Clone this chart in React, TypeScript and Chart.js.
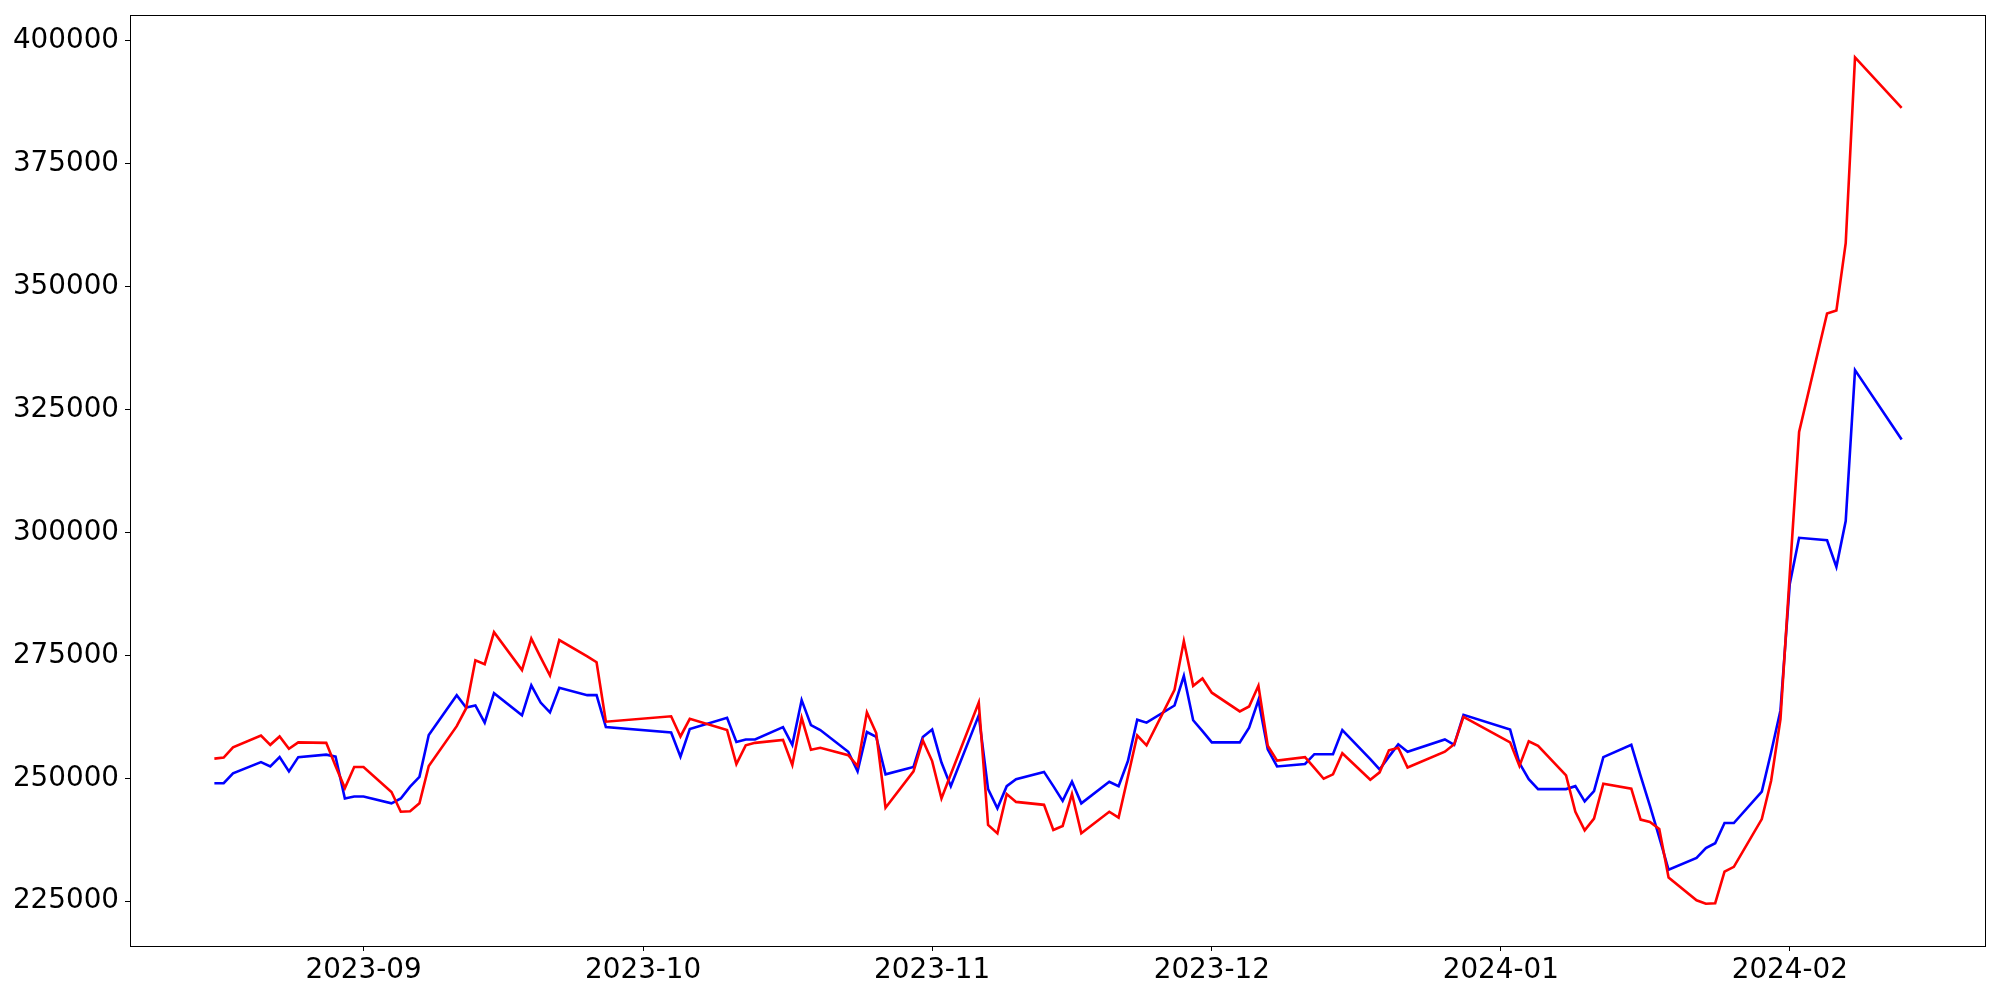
import React, { useEffect, useRef } from 'react';
import { Chart, registerables } from 'chart.js';

Chart.register(...registerables);

const dates = [
  '2023-08-16', '2023-08-17', '2023-08-18', '2023-08-21', '2023-08-22', '2023-08-23', '2023-08-24', '2023-08-25', '2023-08-28', '2023-08-29',
  '2023-08-30', '2023-08-31', '2023-09-01', '2023-09-04', '2023-09-05', '2023-09-06', '2023-09-07', '2023-09-08', '2023-09-11', '2023-09-12',
  '2023-09-13', '2023-09-14', '2023-09-15', '2023-09-18', '2023-09-19', '2023-09-20', '2023-09-21', '2023-09-22', '2023-09-25', '2023-09-26',
  '2023-09-27', '2023-10-04', '2023-10-05', '2023-10-06', '2023-10-10', '2023-10-11', '2023-10-12', '2023-10-13', '2023-10-16', '2023-10-17',
  '2023-10-18', '2023-10-19', '2023-10-20', '2023-10-23', '2023-10-24', '2023-10-25', '2023-10-26', '2023-10-27', '2023-10-30', '2023-10-31',
  '2023-11-01', '2023-11-02', '2023-11-03', '2023-11-06', '2023-11-07', '2023-11-08', '2023-11-09', '2023-11-10', '2023-11-13', '2023-11-14',
  '2023-11-15', '2023-11-16', '2023-11-17', '2023-11-20', '2023-11-21', '2023-11-22', '2023-11-23', '2023-11-24', '2023-11-27', '2023-11-28',
  '2023-11-29', '2023-11-30', '2023-12-01', '2023-12-04', '2023-12-05', '2023-12-06', '2023-12-07', '2023-12-08', '2023-12-11', '2023-12-12',
  '2023-12-13', '2023-12-14', '2023-12-15', '2023-12-18', '2023-12-19', '2023-12-20', '2023-12-21', '2023-12-22', '2023-12-26', '2023-12-27',
  '2023-12-28', '2024-01-02', '2024-01-03', '2024-01-04', '2024-01-05', '2024-01-08', '2024-01-09', '2024-01-10', '2024-01-11', '2024-01-12',
  '2024-01-15', '2024-01-16', '2024-01-17', '2024-01-18', '2024-01-19', '2024-01-22', '2024-01-23', '2024-01-24', '2024-01-25', '2024-01-26',
  '2024-01-29', '2024-01-30', '2024-01-31', '2024-02-01', '2024-02-02', '2024-02-05', '2024-02-06', '2024-02-07', '2024-02-08', '2024-02-13',
];

const redValues = [
  254000, 254200, 256300, 258700, 256800, 258500, 256000, 257300, 257200, 252500,
  248000, 252300, 252300, 247200, 243200, 243300, 244900, 252500, 260600, 264200,
  274000, 273200, 279700, 272000, 278400, 274600, 270900, 278100, 274800, 273600,
  261500, 262600, 258500, 262100, 259800, 252900, 256700, 257200, 257800, 252700,
  262300, 255800, 256200, 254700, 252500, 263400, 259200, 244000, 251400, 257700,
  253500, 245900, 250800, 265400, 240500, 238800, 246800, 245200, 244600, 239500,
  240300, 246800, 238800, 243200, 242000, 250300, 258700, 256700, 268000, 277900,
  268800, 270300, 267400, 263600, 264600, 268800, 256600, 253600, 254300, 252100,
  249900, 250800, 255100, 249700, 251200, 255700, 256200, 252200, 255400, 256900,
  262500, 257300, 252500, 257500, 256600, 250600, 243200, 239400, 241800, 248900,
  247900, 241600, 241100, 239700, 229800, 225200, 224500, 224600, 231000, 232000,
  241700, 249500, 262000, 291500, 320400, 344500, 345100, 358800, 396600, 386300,
];

const blueValues = [
  249000, 249000, 251000, 253300, 252400, 254300, 251400, 254300, 254800, 254400,
  245900, 246300, 246300, 244900, 245900, 248300, 250300, 258800, 266900, 264400,
  264800, 261300, 267300, 262800, 268900, 265400, 263400, 268400, 266900, 266900,
  260400, 259300, 254400, 260000, 262300, 257400, 257900, 257900, 260400, 256800,
  265900, 260800, 259800, 255400, 251400, 259400, 258400, 250800, 252300, 258400,
  259900, 253200, 248400, 262800, 247800, 243900, 248400, 249800, 251300, 248400,
  245400, 249300, 244900, 249300, 248400, 253500, 261900, 261300, 264800, 270800,
  261800, 259600, 257300, 257300, 260300, 265900, 255900, 252400, 252900, 254900,
  254900, 254900, 259800, 253900, 251800, 254400, 256900, 255400, 257900, 256800,
  262900, 259900, 253100, 249800, 247800, 247800, 248400, 245300, 247400, 254300,
  256800, 250500, 244400, 238000, 231400, 233800, 235800, 236800, 240900, 240900,
  247300, 255300, 263800, 289500, 298900, 298400, 293000, 302300, 333000, 318900,
];

const yTickValues = [225000, 250000, 275000, 300000, 325000, 350000, 375000, 400000];
const xTickLabels = ['2023-09', '2023-10', '2023-11', '2023-12', '2024-01', '2024-02'];

const DAY_MS = 86400000;
const toDay = (s: string) => Date.parse(s + 'T00:00:00Z') / DAY_MS;

const FONT = { family: 'DejaVu Sans', size: 27.8 };

const framePlugin = {
  id: 'frame',
  afterDraw(chart: any) {
    const { ctx, chartArea } = chart;
    const left = Math.round(chartArea.left) + 0.5;
    const top = Math.round(chartArea.top) + 0.5;
    const right = Math.round(chartArea.right) - 0.5;
    const bottom = Math.round(chartArea.bottom) + 0.5;
    ctx.save();
    ctx.strokeStyle = '#000';
    ctx.lineWidth = 1;
    ctx.strokeRect(left, top, right - left, bottom - top);
    ctx.restore();
  },
};

export default function App() {
  const canvasRef = useRef<HTMLCanvasElement | null>(null);

  useEffect(() => {
    document.body.style.margin = '0';
    const canvas = canvasRef.current;
    if (!canvas) return;

    const xs = dates.map(toDay);
    const xFirst = xs[0];
    const xLast = xs[xs.length - 1];
    const xPad = (xLast - xFirst) * 0.05;
    const all = redValues.concat(blueValues);
    const yMinData = Math.min(...all);
    const yMaxData = Math.max(...all);
    const yPad = (yMaxData - yMinData) * 0.05;

    const chart = new Chart(canvas, {
      type: 'line',
      data: {
        datasets: [
          {
            label: 'red',
            data: xs.map((x, i) => ({ x, y: redValues[i] })),
            borderColor: '#ff0000',
            backgroundColor: '#ff0000',
            borderWidth: 2.6,
            pointRadius: 0,
            tension: 0,
            fill: false,
          },
          {
            label: 'blue',
            data: xs.map((x, i) => ({ x, y: blueValues[i] })),
            borderColor: '#0000ff',
            backgroundColor: '#0000ff',
            borderWidth: 2.6,
            pointRadius: 0,
            tension: 0,
            fill: false,
          },
        ],
      },
      options: {
        responsive: false,
        animation: false,
        events: [],
        layout: { padding: { left: 0, right: 14, top: 15, bottom: 0 } },
        plugins: {
          legend: { display: false },
          tooltip: { enabled: false },
          title: { display: false },
        },
        scales: {
          x: {
            type: 'linear',
            min: xFirst - xPad,
            max: xLast + xPad,
            border: { display: false },
            grid: {
              display: true,
              drawOnChartArea: false,
              drawTicks: true,
              tickLength: 5,
              color: '#000',
              lineWidth: 1,
            },
            ticks: {
              color: '#000',
              font: FONT,
              padding: 3,
              autoSkip: false,
              maxRotation: 0,
              minRotation: 0,
              callback: (_v: any, i: number) => xTickLabels[i],
            },
            afterBuildTicks: (scale: any) => {
              scale.ticks = xTickLabels.map((l) => ({ value: toDay(l + '-01') }));
            },
            afterFit: (scale: any) => {
              scale.height = 54;
              scale.paddingLeft = 0;
              scale.paddingRight = 0;
              scale.paddingTop = 0;
              scale.paddingBottom = 0;
            },
          },
          y: {
            type: 'linear',
            min: yMinData - yPad,
            max: yMaxData + yPad,
            border: { display: false },
            grid: {
              display: true,
              drawOnChartArea: false,
              drawTicks: true,
              tickLength: 5,
              color: '#000',
              lineWidth: 1,
            },
            ticks: {
              color: '#000',
              font: FONT,
              padding: 6,
              autoSkip: false,
              callback: (v: any) => String(v),
            },
            afterBuildTicks: (scale: any) => {
              scale.ticks = yTickValues.map((v) => ({ value: v }));
            },
            afterFit: (scale: any) => {
              scale.width = 130;
              scale.paddingLeft = 0;
              scale.paddingRight = 0;
              scale.paddingTop = 0;
              scale.paddingBottom = 0;
            },
          },
        },
      },
      plugins: [framePlugin],
    });

    return () => chart.destroy();
  }, []);

  return (
    <div style={{ position: 'absolute', left: 0, top: 0, width: 2000, height: 1000, background: '#fff' }}>
      <canvas ref={canvasRef} width={2000} height={1000} style={{ display: 'block', width: 2000, height: 1000 }} />
    </div>
  );
}
